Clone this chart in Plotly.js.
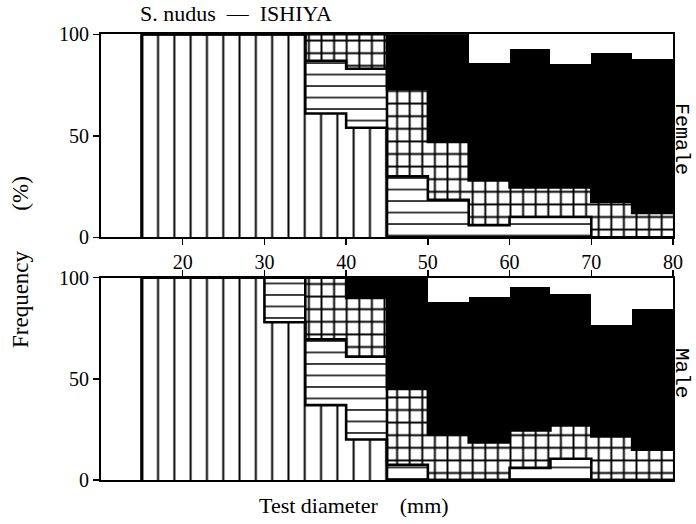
<!DOCTYPE html>
<html>
<head>
<meta charset="utf-8">
<script src="https://cdn.plot.ly/plotly-3.0.1.min.js"></script>
<style>html,body{margin:0;padding:0;background:#fff;}#chart{width:696px;height:524px;}</style>
</head>
<body>
<div id="chart"></div>
<script>
// Bin centres (test diameter, mm), bins 5 mm wide from 15 to 80
const binCenters = [17.5, 22.5, 27.5, 32.5, 37.5, 42.5, 47.5, 52.5, 57.5, 62.5, 67.5, 72.5, 77.5];
const xTicks = [20, 30, 40, 50, 60, 70, 80];
const yTicks = [0, 50, 100];

// Female: percentage in each category (stacked bottom to top)
const femaleVertical   = [100, 100, 100, 100, 61, 54, 0, 0, 0, 0, 0, 0, 0];
const femaleHorizontal = [0, 0, 0, 0, 26, 29, 30, 18.5, 6, 10, 10, 0, 0];
const femaleGrid       = [0, 0, 0, 0, 13, 17, 43, 28.5, 22, 14.5, 14.5, 17.5, 12];
const femaleBlack      = [0, 0, 0, 0, 0, 0, 27, 53, 58, 68.5, 61, 73.5, 76];
const femaleWhite      = [0, 0, 0, 0, 0, 0, 0, 0, 14, 7, 14, 9, 12];

// Male
const maleVertical   = [100, 100, 100, 78, 37, 20, 0, 0, 0, 0, 0, 0, 0];
const maleHorizontal = [0, 0, 0, 22, 32.5, 41, 7.5, 0, 0, 6, 10.5, 0, 0];
const maleGrid       = [0, 0, 0, 0, 30.5, 29, 37.5, 22.5, 18.5, 18.5, 16.5, 21.5, 15];
const maleBlack      = [0, 0, 0, 0, 0, 10, 55, 65.5, 72, 71, 65, 55, 69.5];
const maleWhite      = [0, 0, 0, 0, 0, 0, 0, 12, 9.5, 4.5, 8, 23.5, 15.5];

const BW = 5;
function barTrace(y, ax, style) {
  const t = {
    type: 'bar', x: binCenters, y: y, width: BW,
    xaxis: ax.x, yaxis: ax.y, hoverinfo: 'skip', showlegend: false,
    marker: { color: style.color || 'white', line: { width: style.lw || 0, color: style.lc || 'black' } }
  };
  if (style.pattern) t.marker.pattern = style.pattern;
  return t;
}
const stVertical = { color: 'white', pattern: { shape: '|', size: 16.3, solidity: 0.12, fgcolor: 'black', bgcolor: 'white', fillmode: 'replace' } };
const stHorizontal = { color: 'white', pattern: { shape: '-', size: 11.5, solidity: 0.13, fgcolor: 'black', bgcolor: 'white', fillmode: 'replace' } };
const stGrid = { color: 'white', pattern: { shape: '+', size: 12.6, solidity: 0.28, fgcolor: 'black', bgcolor: 'white', fillmode: 'replace' } };
const stBlack = { color: 'black', lw: 0.8, lc: 'black' };
const stWhite = { color: 'white' };

function cumulative(arrs) {
  return binCenters.map((_, i) => arrs.reduce((s, a) => s + a[i], 0));
}
function stepTrace(vals, ax) {
  const xs = [binCenters[0] - BW / 2];
  const ys = [0];
  binCenters.forEach((c, i) => { xs.push(c - BW / 2); ys.push(vals[i]); });
  xs.push(binCenters[binCenters.length - 1] + BW / 2);
  ys.push(vals[vals.length - 1]);
  return { type: 'scatter', mode: 'lines', x: xs, y: ys, xaxis: ax.x, yaxis: ax.y,
    line: { shape: 'hv', color: 'black', width: 2.6 }, hoverinfo: 'skip', showlegend: false, cliponaxis: true };
}

const axTop = { x: 'x', y: 'y' }, axBot = { x: 'x2', y: 'y2' };
const traces = [
  barTrace(femaleVertical, axTop, stVertical),
  barTrace(femaleHorizontal, axTop, stHorizontal),
  barTrace(femaleGrid, axTop, stGrid),
  barTrace(femaleBlack, axTop, stBlack),
  barTrace(femaleWhite, axTop, stWhite),
  barTrace(maleVertical, axBot, stVertical),
  barTrace(maleHorizontal, axBot, stHorizontal),
  barTrace(maleGrid, axBot, stGrid),
  barTrace(maleBlack, axBot, stBlack),
  barTrace(maleWhite, axBot, stWhite),
  stepTrace(cumulative([femaleVertical]), axTop),
  stepTrace(cumulative([femaleVertical, femaleHorizontal]), axTop),
  stepTrace(cumulative([femaleVertical, femaleHorizontal, femaleGrid]), axTop),
  stepTrace(cumulative([maleVertical]), axBot),
  stepTrace(cumulative([maleVertical, maleHorizontal]), axBot),
  stepTrace(cumulative([maleVertical, maleHorizontal, maleGrid]), axBot)
];

const serif = 'Liberation Serif, Times New Roman, serif';
const tickFont = { family: serif, size: 20, color: 'black' };
const xDom = [101 / 696, 673 / 696];
function yAxis(dom, anchor) {
  return { domain: dom, anchor: anchor, range: [0, 100], tickvals: yTicks, ticktext: yTicks.map(String),
    ticks: 'outside', ticklen: 6, tickwidth: 1.5, tickcolor: 'black', showgrid: false, zeroline: false,
    showline: true, linewidth: 2, linecolor: 'black', mirror: true, tickfont: tickFont, fixedrange: true };
}
const layout = {
  width: 696, height: 524, margin: { l: 0, r: 0, t: 0, b: 0 },
  paper_bgcolor: 'white', plot_bgcolor: 'white',
  barmode: 'stack', bargap: 0, showlegend: false,
  xaxis: { domain: xDom, anchor: 'y', range: [10, 80], tickvals: xTicks, ticktext: xTicks.map(String),
    ticks: 'outside', ticklen: 6, tickwidth: 1.5, tickcolor: 'black', showgrid: false, zeroline: false,
    showline: true, linewidth: 2, linecolor: 'black', mirror: true, tickfont: tickFont, fixedrange: true },
  yaxis: yAxis([1 - 237.3 / 524, 1 - 34.3 / 524], 'x'),
  xaxis2: { domain: xDom, anchor: 'y2', side: 'top', range: [10, 80], tickvals: xTicks, showticklabels: false,
    ticks: 'outside', ticklen: 6, tickwidth: 1.5, tickcolor: 'black', showgrid: false, zeroline: false,
    showline: true, linewidth: 2, linecolor: 'black', mirror: true, fixedrange: true },
  yaxis2: yAxis([1 - 480 / 524, 1 - 277.7 / 524], 'x2'),
  annotations: [
    { text: 'S. nudus&nbsp;&nbsp;—&nbsp;&nbsp;ISHIYA', xref: 'paper', yref: 'paper', x: 236 / 696, y: 1 - 14 / 524,
      xanchor: 'center', yanchor: 'middle', showarrow: false, font: { family: serif, size: 22, color: 'black' } },
    { text: 'Frequency&nbsp;&nbsp;&nbsp;&nbsp;&nbsp;&nbsp;&nbsp;(%)', xref: 'paper', yref: 'paper', x: 20 / 696, y: 1 - 262 / 524,
      xanchor: 'center', yanchor: 'middle', textangle: -90, showarrow: false, font: { family: serif, size: 23, color: 'black' } },
    { text: 'Test diameter&nbsp;&nbsp;&nbsp;&nbsp;(mm)', xref: 'paper', yref: 'paper', x: 354 / 696, y: 1 - 505 / 524,
      xanchor: 'center', yanchor: 'middle', showarrow: false, font: { family: serif, size: 22, color: 'black' } },
    { text: 'Female', xref: 'paper', yref: 'paper', x: 682 / 696, y: 1 - 139 / 524,
      xanchor: 'center', yanchor: 'middle', textangle: 90, showarrow: false, font: { family: 'Liberation Mono, monospace', size: 20, color: 'black' } },
    { text: 'Male', xref: 'paper', yref: 'paper', x: 682 / 696, y: 1 - 373 / 524,
      xanchor: 'center', yanchor: 'middle', textangle: 90, showarrow: false, font: { family: 'Liberation Mono, monospace', size: 21, color: 'black' } }
  ]
};
Plotly.newPlot('chart', traces, layout, { staticPlot: true, displayModeBar: false });
</script>
</body>
</html>
